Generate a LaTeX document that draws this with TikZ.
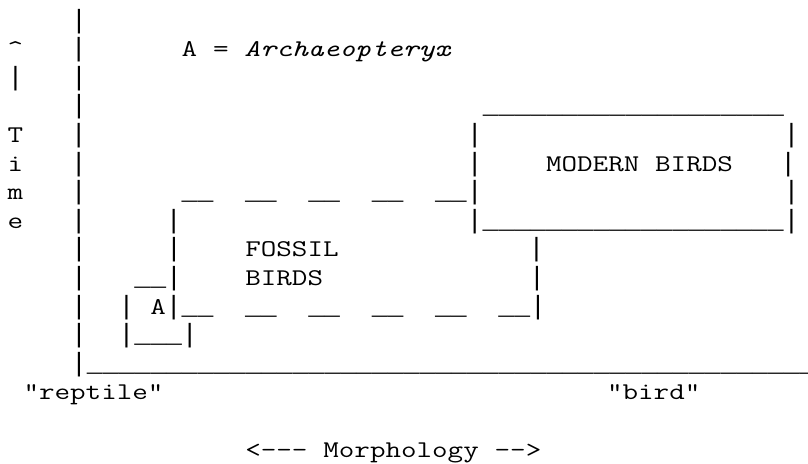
\documentclass[tikz,border=0pt]{standalone}
\usepackage{fontspec}
\setmonofont{Liberation Mono}
\newfontfamily\lmtt{Latin Modern Mono}[FakeStretch=1.258]
\ExplSyntaxOn
\NewDocumentCommand\asrep{m m}{\prg_replicate:nn{#1}{#2}}
\ExplSyntaxOff
\newcommand\sps[1]{\asrep{#1}{~}}
\newcommand\uss[1]{\asrep{#1}{\_}}
\newcommand\w[1]{{\lmtt\fontsize{24}{28.6}\selectfont #1}}
\newcommand\asciifont{\ttfamily\fontsize{26.4}{28.6}\selectfont}
\tikzset{ascii/.style={anchor=base west, inner sep=0pt, outer sep=0pt, font=\asciifont}}
\begin{document}
\begin{tikzpicture}[x=1pt,y=-1pt]
\fill[white] (0,0) rectangle (808,463);
\useasboundingbox (0,0) rectangle (808,463);
\def\xo{7.7}
\node[ascii] (l0)  at (\xo, 28.0) {\sps{4}|};
\node[ascii] (l1)  at (\xo, 56.6) {\w{\textasciicircum}\sps{3}|\sps{6}\w{A}~\w{=}~\w{\textit{Archaeopteryx}}};
\node[ascii] (l2)  at (\xo, 85.2) {|\sps{3}|};
\node[ascii] (l3)  at (\xo,113.8) {\sps{4}|\sps{25}\uss{19}};
\node[ascii] (l4)  at (\xo,142.4) {\w{T}\sps{3}|\sps{24}|\sps{19}|};
\node[ascii] (l5)  at (\xo,171.0) {\w{i}\sps{3}|\sps{24}|\sps{4}\w{MODERN}~\w{BIRDS}\sps{3}|};
\node[ascii] (l6)  at (\xo,199.6) {\w{m}\sps{3}|\sps{6}\uss{2}\sps{2}\uss{2}\sps{2}\uss{2}\sps{2}\uss{2}\sps{2}\uss{2}|\sps{19}|};
\node[ascii] (l7)  at (\xo,228.2) {\w{e}\sps{3}|\sps{5}|\sps{18}|\uss{19}|};
\node[ascii] (l8)  at (\xo,256.8) {\sps{4}|\sps{5}|\sps{4}\w{FOSSIL}\sps{12}|};
\node[ascii] (l9)  at (\xo,285.4) {\sps{4}|\sps{3}\uss{2}|\sps{4}\w{BIRDS}\sps{13}|};
\node[ascii] (l10) at (\xo,314.0) {\sps{4}|\sps{2}|~\w{A}|\uss{2}\sps{2}\uss{2}\sps{2}\uss{2}\sps{2}\uss{2}\sps{2}\uss{2}\sps{2}\uss{2}|};
\node[ascii] (l11) at (\xo,342.6) {\sps{4}|\sps{2}|\uss{3}|};
\node[ascii] (l12) at (\xo,371.2) {\sps{4}|\uss{46}};
\node[ascii] (l13) at (\xo,399.8) {~\w{"reptile"}\sps{28}\w{"bird"}};
\node[ascii] (l15) at (\xo,457.0) {\sps{15}\w{<-\kern0pt-\kern0pt-}~\w{Morphology}~\w{-\kern0pt->}};
\end{tikzpicture}
\end{document}
